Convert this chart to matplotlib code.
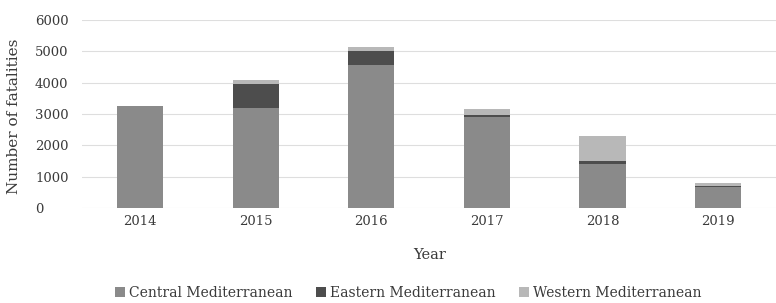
import matplotlib.pyplot as plt
import numpy as np

years = ['2014', '2015', '2016', '2017', '2018', '2019']
central = [3250, 3190, 4570, 2900, 1410, 670]
eastern = [0, 770, 450, 60, 90, 30]
western = [0, 130, 120, 200, 800, 100]

plt.rcParams['font.family'] = ['DejaVu Serif']

fig = plt.figure(figsize=(7.76, 3.03), dpi=100)
ax = fig.add_axes([0.106, 0.313, 0.894, 0.621])

x = np.arange(len(years))
w = 0.4
c1, c2, c3 = '#8a8a8a', '#4d4d4d', '#b8b8b8'
ax.bar(x, central, w, color=c1, label='Central Mediterranean', zorder=2)
ax.bar(x, eastern, w, bottom=central, color=c2, label='Eastern Mediterranean', zorder=2)
bot = np.array(central) + np.array(eastern)
ax.bar(x, western, w, bottom=bot, color=c3, label='Western Mediterranean', zorder=2)

ax.set_xlim(-0.5, 5.5)
ax.set_ylim(0, 6000)
ax.set_yticks(range(0, 6001, 1000))
ax.set_xticks(x)
ax.set_xticklabels(years)
ax.grid(axis='y', color='#dedede', linewidth=0.8, zorder=0)
for s in ax.spines.values():
    s.set_visible(False)
ax.tick_params(length=0, labelsize=9.5, colors='#3a3a3a', pad=5)
ax.tick_params(axis='y', pad=34)
for t in ax.get_yticklabels():
    t.set_horizontalalignment('left')

ax.set_ylabel('Number of fatalities', fontsize=11, color='#3a3a3a')
ax.yaxis.set_label_coords(-0.088, 0.49)
ax.set_xlabel('Year', fontsize=10.5, color='#3a3a3a', labelpad=14)

ax.legend(loc='upper center', bbox_to_anchor=(0.47, -0.385), ncol=3, frameon=False,
          fontsize=10, handlelength=0.7, handleheight=0.7, handletextpad=0.3,
          columnspacing=1.7, labelcolor='#3a3a3a', borderaxespad=0)

fig.savefig('out.png', dpi=100)
